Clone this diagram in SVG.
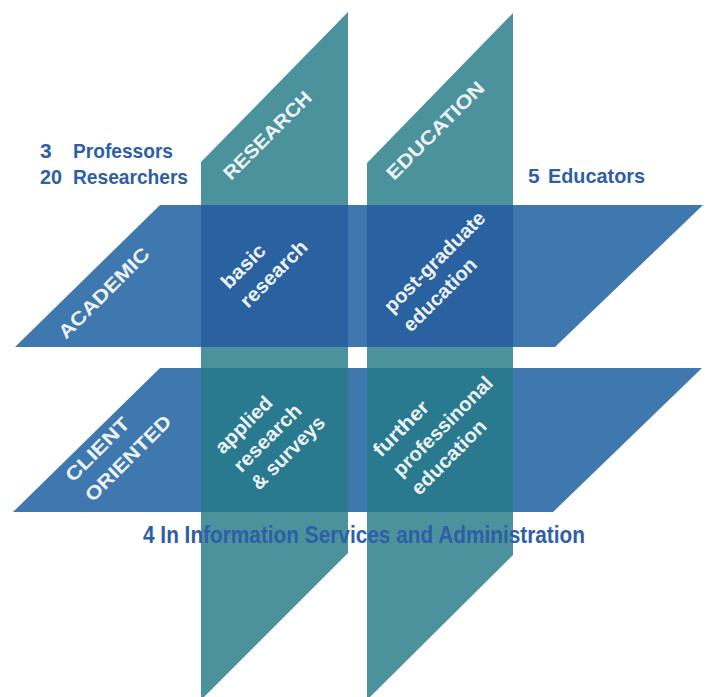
<svg xmlns="http://www.w3.org/2000/svg" width="709" height="697" viewBox="0 0 709 697">
<style>
.teal{fill:#4c929c}
.blue{fill:#3f78ae}
.ovA{fill:#2a61a0}
.ovB{fill:#29798f}
.lab{font-family:"Liberation Sans",Arial,sans-serif;font-weight:bold;fill:#eef3f7}
.cap{font-size:19px}
.low{font-size:20px}
.info{font-family:"Liberation Sans",Arial,sans-serif;font-weight:bold;fill:#2e5ea6}
</style>
<rect width="709" height="697" fill="#ffffff"/>
<g id="research-band">
<polygon class="teal" points="201,162 348,12 348,553 201,700"/>
</g>
<g id="education-band">
<polygon class="teal" points="367,163 513,13 513,555 367,700"/>
</g>
<g id="academic-band">
<polygon class="blue" points="160,205 703,205 555,347 15,347"/>
</g>
<g id="client-band">
<polygon class="blue" points="160,368 702,368 553,512 13,512"/>
</g>
<g id="cell-basic-research">
<rect class="ovA" x="201" y="205" width="147" height="142"/>
<text class="lab low" transform="translate(229,290) rotate(-45)"><tspan x="0" y="0" textLength="54" lengthAdjust="spacingAndGlyphs">basic</tspan><tspan x="0" y="27" textLength="86" lengthAdjust="spacingAndGlyphs">research</tspan></text>
</g>
<g id="cell-postgraduate">
<rect class="ovA" x="367" y="205" width="146" height="142"/>
<text class="lab low" transform="translate(392,314) rotate(-45)"><tspan x="0" y="0" textLength="134" lengthAdjust="spacingAndGlyphs">post-graduate</tspan><tspan x="0" y="27" textLength="95" lengthAdjust="spacingAndGlyphs">education</tspan></text>
</g>
<g id="cell-applied">
<rect class="ovB" x="201" y="368" width="147" height="144"/>
<text class="lab low" transform="translate(223,455) rotate(-45)"><tspan x="0" y="0" textLength="72" lengthAdjust="spacingAndGlyphs">applied</tspan><tspan x="0" y="26" textLength="87" lengthAdjust="spacingAndGlyphs">research</tspan><tspan x="0" y="51" textLength="95" lengthAdjust="spacingAndGlyphs">&amp; surveys</tspan></text>
</g>
<g id="cell-further">
<rect class="ovB" x="367" y="368" width="146" height="144"/>
<text class="lab low" transform="translate(381,458) rotate(-45)"><tspan x="0" y="0" textLength="70" lengthAdjust="spacingAndGlyphs">further</tspan><tspan x="0" y="28" textLength="132" lengthAdjust="spacingAndGlyphs">professinonal</tspan><tspan x="0" y="54" textLength="97" lengthAdjust="spacingAndGlyphs">education</tspan></text>
</g>
<g id="label-research">
<text class="lab cap" transform="translate(231,181) rotate(-45)" textLength="116" lengthAdjust="spacingAndGlyphs">RESEARCH</text>
</g>
<g id="label-education">
<text class="lab cap" transform="translate(394,181) rotate(-45)" textLength="130" lengthAdjust="spacingAndGlyphs">EDUCATION</text>
</g>
<g id="label-academic">
<text class="lab cap" transform="translate(66,340) rotate(-45)" textLength="120" lengthAdjust="spacingAndGlyphs">ACADEMIC</text>
</g>
<g id="label-client">
<text class="lab cap" transform="translate(73,483) rotate(-45)"><tspan x="0" y="0" textLength="82" lengthAdjust="spacingAndGlyphs">CLIENT</tspan><tspan x="0" y="28" textLength="113" lengthAdjust="spacingAndGlyphs">ORIENTED</tspan></text>
</g>
<g id="staff-research">
<text class="info" font-size="21"><tspan x="40" y="158">3</tspan><tspan x="73" y="158" textLength="100" lengthAdjust="spacingAndGlyphs">Professors</tspan><tspan x="40" y="184" textLength="22" lengthAdjust="spacingAndGlyphs">20</tspan><tspan x="73" y="184" textLength="115" lengthAdjust="spacingAndGlyphs">Researchers</tspan></text>
</g>
<g id="staff-education">
<text class="info" font-size="21"><tspan x="528" y="183">5</tspan><tspan x="548" y="183" textLength="97" lengthAdjust="spacingAndGlyphs">Educators</tspan></text>
</g>
<g id="staff-services">
<text class="info" font-size="23" x="143" y="543" textLength="442" lengthAdjust="spacingAndGlyphs">4 In Information Services  and Administration</text>
</g>
</svg>
